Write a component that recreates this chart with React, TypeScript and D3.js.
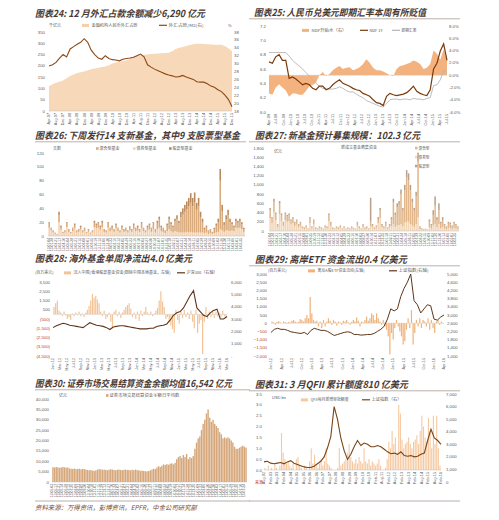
import React from "react";
import * as d3 from "d3";

const SANS = "'Liberation Sans', Arial, sans-serif";
const CJK = "'Noto Sans CJK SC', 'Noto Sans', sans-serif";
const TXT = "#595959";
const NEG = "#c0392b";
const RULE = "#a89c96";

const MON = ["Jan","Feb","Mar","Apr","May","Jun","Jul","Aug","Sep","Oct","Nov","Dec"];
function monthLabels(year: number, month: number, count: number, step: number): string[] {
  const out: string[] = [];
  for (let k = 0; k < count; k++) {
    const t = month + k * step;
    const yy = year + Math.floor(t / 12);
    out.push(`${MON[t % 12]}-${String(yy % 100).padStart(2, "0")}`);
  }
  return out;
}
function dayLabels(start: string, count: number, stepDays: number): string[] {
  const f = d3.timeFormat("%y-%m-%d");
  const s = new Date(start + "T00:00:00");
  return d3.range(count).map((k) => f(d3.timeDay.offset(s, k * stepDays)));
}

// ---------- Titles ----------
const TITLE24 = "图表24: 12 月外汇占款余额减少6,290 亿元";
const TITLE25 = "图表25: 人民币兑美元即期汇率本周有所贬值";
const TITLE26 = "图表26: 下周发行14 支新基金，其中9 支股票型基金";
const TITLE27 = "图表27: 新基金预计募集规模：102.3 亿元";
const TITLE28 = "图表28: 海外基金单周净流出4.0 亿美元";
const TITLE29 = "图表29: 离岸ETF 资金流出0.4 亿美元";
const TITLE30 = "图表30: 证券市场交易结算资金余额均值16,542 亿元";
const TITLE31 = "图表31: 3 月QFII 累计额度810 亿美元";
const SOURCE = "资料来源：万得资讯，彭博资讯，EPFR，中金公司研究部";

// ---------- Panel 24 (bi-monthly, Apr-07 .. Dec-15) ----------
const fxHoldings = [110,118,125,130,135,145,155,162,168,172,175,180,185,188,192,195,197,203,210,215,218,222,225,232,242,245,248,249,250,252,254,255,256,257,258,265,275,280,283,288,292,296,298,298,297,296,295,294,294,293,288,278,265];
const fxToM2 = [29.4,29.7,30.3,31.4,32.3,31.7,33.7,34.3,34.9,35.4,36.3,35.4,33.4,32.3,31.4,31.1,32.0,31.3,31.0,30.9,30.7,31.1,31.3,31.4,31.6,32.0,32.4,31.7,29.7,29.1,28.6,28.2,27.8,27.4,27.1,26.9,26.6,26.7,27.0,26.6,26.3,26.0,25.4,25.3,25.3,24.9,24.3,24.0,23.4,22.9,22.0,20.9,19.1];
const labels24 = monthLabels(2007, 3, 27, 4);

// ---------- Panel 25 ----------
const ndf1y = [6.70,6.68,6.77,6.80,6.72,6.72,6.47,6.49,6.46,6.42,6.38,6.40,6.38,6.33,6.31,6.36,6.36,6.31,6.33,6.38,6.42,6.45,6.40,6.38,6.36,6.33,6.31,6.30,6.26,6.24,6.22,6.17,6.13,6.12,6.09,6.22,6.26,6.24,6.23,6.24,6.25,6.27,6.31,6.36,6.29,6.26,6.24,6.23,6.31,6.60,6.68,6.85,6.95,6.72];
const spotRate = [6.83,6.83,6.83,6.83,6.83,6.83,6.78,6.72,6.68,6.64,6.60,6.55,6.50,6.45,6.40,6.36,6.33,6.32,6.32,6.32,6.33,6.35,6.33,6.30,6.28,6.28,6.25,6.22,6.20,6.16,6.14,6.12,6.10,6.08,6.07,6.12,6.17,6.18,6.18,6.17,6.18,6.18,6.17,6.19,6.18,6.18,6.17,6.19,6.20,6.37,6.38,6.45,6.58,6.55];
const ndfPremium = [-3.0,-3.2,-2.0,-1.5,-2.0,-2.5,-3.5,-3.0,-3.0,-3.2,-3.2,-2.6,-1.8,-1.6,-1.2,0.0,0.5,-0.2,0.2,0.8,1.2,1.5,1.0,1.2,1.3,0.8,1.0,1.3,1.8,2.6,2.0,1.2,0.8,0.8,0.6,0.3,0.0,-0.2,1.0,1.5,1.6,1.8,2.0,2.4,2.2,1.8,1.0,1.2,1.8,4.0,3.5,2.5,4.2,2.5];
const labels25 = monthLabels(2009, 3, 26, 3);

// ---------- Panel 26 ----------
const bond26 = [12,8,5,3,2,20,9,4,5,13,6,4,7,11,5,6,9,5,7,4,6,3,5,13,11,12,9,13,6,5,12,7,9,6,11,7,5,9,6,7,5,8,6,10,7,8,6,11,7,5,8,10,6,10,5,10,12,7,6,4,7,10,7,5,7,6,5,5,5,5,6,5,6,5,5,5,5,5,5,4,5,3,4,3,4,5,6,10,8,6,8,8,7,8,7,12,11,12,10,6];
const mixed26 = [6,3,2,2,1,10,4,2,2,5,3,2,4,5,2,3,4,2,4,2,3,2,2,6,5,6,4,6,3,2,6,4,4,3,5,4,2,4,3,4,2,4,3,6,4,5,3,7,4,2,5,6,5,8,4,9,12,6,5,3,8,14,10,8,14,18,13,22,26,30,33,38,42,38,44,33,38,22,15,6,8,4,5,2,6,10,14,70,28,10,16,22,13,9,6,9,8,9,7,4];
const stock26 = [2,1,1,0,0,5,2,0,1,2,1,0,1,2,1,1,2,1,1,0,1,0,1,3,2,2,2,3,1,1,2,1,2,1,2,1,1,2,1,1,1,2,1,2,1,2,1,2,1,1,2,2,1,2,1,3,4,2,1,1,3,4,3,2,4,6,4,8,9,10,11,12,14,12,14,10,12,8,5,2,2,1,1,1,2,3,5,17,9,4,6,8,5,3,2,4,3,4,3,2];
const labels26 = dayLabels("2013-01-04", 50, 24);

// ---------- Panel 27 ----------
const mixed27 = [170,100,230,130,55,220,130,70,130,115,130,85,100,70,85,55,70,30,27,38,19,100,35,85,27,19,35,27,15,38,35,130,70,27,19,35,27,38,19,35,15,27,19,35,23,15,70,35,19,55,27,35,19,120,50,25,35,90,160,50,30,60,25,50,160,470,260,400,440,650,340,700,970,900,730,500,350,600,1200,40,20,12,15,10,120,70,230,400,160,300,100,150,70,50,90,80,60,90,70,45];
const bond27 = [280,170,400,230,80,370,210,110,230,200,210,140,170,110,140,80,110,60,45,70,35,170,55,140,45,35,55,45,30,70,55,210,110,45,35,55,45,70,35,55,30,45,35,55,40,30,110,55,35,80,45,55,35,100,80,45,70,170,280,80,55,110,45,80,100,150,90,120,130,150,100,180,200,200,150,120,90,150,300,40,30,20,25,15,80,50,120,150,80,150,60,90,50,30,70,60,40,70,50,35];
const stock27 = [50,30,70,40,15,60,40,20,40,35,40,25,30,20,25,15,20,10,8,12,6,30,10,25,8,6,10,8,5,12,10,40,20,8,6,10,8,12,6,10,5,8,6,10,7,5,20,10,6,15,8,10,6,500,20,10,15,40,60,20,15,30,10,20,40,80,50,80,80,100,60,120,150,150,120,80,60,100,200,20,10,8,10,5,50,30,100,200,60,150,40,60,30,20,40,40,20,40,30,20];
const labels27 = dayLabels("2013-01-04", 50, 24);

// ---------- Panel 28 ----------
const flows28 = [800,1200,1500,400,200,-200,300,-100,-500,-300,-600,100,-200,200,-100,300,-200,100,-300,200,500,900,1500,2200,1800,2000,1600,1200,300,-200,400,-500,-300,200,-800,-1500,300,500,-200,300,-400,200,500,800,1000,1200,600,-300,200,-500,300,-700,400,-200,300,800,200,-100,300,-200,100,400,700,1500,2500,1400,800,-500,-300,-800,-1200,-1600,-2000,500,-600,-1000,300,-400,500,-300,200,-500,400,-800,-1500,500,-2000,-1000,-600,-4300,-800,800,-500,300,-300,500,-400,300,-200,200,-300,400,-200,-400];
const csi300 = [2300,2450,2550,2650,2600,2500,2450,2400,2350,2300,2500,2700,2600,2500,2450,2400,2300,2150,2350,2400,2450,2450,2400,2350,2300,2250,2200,2200,2200,2250,2250,2400,2450,2500,2600,2900,3300,3500,3600,3900,4400,4900,5300,3900,3600,3300,3200,3500,3700,3800,3000,3000,3200];
const labels28 = monthLabels(2012, 0, 26, 2);

// ---------- Panel 29 ----------
const etf29 = [100,50,-100,80,120,50,0,100,60,-50,80,50,150,200,100,50,80,250,200,100,300,500,300,1600,600,200,100,150,-200,100,-300,200,-200,100,300,150,-100,200,100,-150,100,50,-100,150,100,200,50,-100,80,200,100,350,150,-200,100,50,200,400,150,300,600,500,200,600,300,100,-100,200,-200,-400,-800,-1900,-600,-1000,-300,200,-200,-500,-800,-1300,-1100,-400,300,-300,800,-1300,-600,200,-200,300,-300,200,100,-200,300,-400,200,-300,-600,100,200,-100,100,-40];
const shcomp29 = [2150,2300,2350,2300,2300,2250,2180,2150,2120,2100,2150,2050,2250,2350,2300,2250,2250,2200,2100,2000,2050,2100,2150,2180,2150,2050,2050,2020,2030,2050,2050,2100,2200,2300,2450,2800,3300,3200,3300,3900,4300,4600,5000,3700,3500,3100,3300,3500,3450,2800,2750,2900,3000];
const labels29 = monthLabels(2012, 0, 18, 3);

// ---------- Panel 30 ----------
const settle30 = [7100,7000,7200,7100,6800,7000,7200,7100,6900,7000,6500,6400,6300,6500,6200,6300,6400,6100,6300,6200,6000,5800,5600,5800,5500,5400,5600,6000,6200,6100,5900,6000,5800,5700,5900,6100,6000,5800,5600,5900,6000,5800,5700,5900,6000,5800,5800,5600,5900,5700,6000,5800,5600,5400,5500,5300,5200,5100,5300,5600,6000,6400,6200,7000,7600,7200,7800,8500,8200,8600,8300,8800,9000,8500,9200,11000,12000,12500,11500,13000,12000,13500,11000,12000,11500,12500,16000,19000,21000,22000,25000,28000,30000,33000,35000,31000,29000,30000,28000,27000,26000,24000,23000,21000,21500,21000,21500,21000,20000,19000,17000,16000,16000,16500,17000,17500,17000,16542];
const labels30 = dayLabels("2013-05-03", 59, 14);

// ---------- Panel 31 ----------
const qfii31 = [0.1,0,0.2,0,0.1,0,0.3,0.1,0,0.2,1.7,0.8,0.5,0.3,0.4,0.2,0.1,0.3,0,0.5,0.6,0.2,0.1,0,0.2,0.1,0,0.4,1.0,0.3,0.7,0.2,0.1,0.3,0.5,0.2,0.4,1.0,0.3,0.2,0.1,0,0,0,0.1,1.0,0.2,0.3,0.4,0.5,0.8,1.2,0.6,0.4,0.3,0.5,0.3,0.6,0.4,0.3,1.0,0.4,0.3,0.5,0.2,0.4,0.3,0.2,0.3,0.5,0.2,0,0,0.1,0.5,1.3,1.0,1.8,1.2,1.5,0.8,3.0,2.6,1.4,1.0,1.2,1.3,1.5,1.2,1.0,1.3,1.4,1.6,1.2,1.8,2.5,2.0,1.5,1.3,2.4,1.8,1.0,2.5,1.2,2.5,1.0,0.2];
const shcomp31 = [1600,1650,1500,1450,1500,1550,1450,1600,1700,1500,1400,1300,1200,1150,1150,1250,1450,1650,2000,2700,3600,6000,5000,3500,2500,1800,2200,2800,3300,2900,3100,3000,2800,2800,2900,2800,2600,2400,2250,2300,2200,2400,2100,2050,2100,2000,2050,2200,2300,3300,4200,3500,3300,3000];
const labels31 = monthLabels(2002, 7, 28, 6);

// ---------- helpers ----------
const comma = d3.format(",");

function Title({ x, y, text, w, rule }: any) {
  return (
    <g>
      <text x={x} y={y} fontFamily={CJK} fontStyle="italic" fontWeight={700} fontSize={9.5}
        fill="#4a3a34" textLength={w} lengthAdjust="spacingAndGlyphs">{text}</text>
      {rule && <line x1={rule[0]} x2={rule[1]} y1={y + 2.8} y2={y + 2.8} stroke={RULE} strokeWidth={0.8} />}
    </g>
  );
}

function YLabels({ scale, ticks, x, anchor, fmt, colorFn }: any) {
  return (
    <g>
      {ticks.map((t: number) => (
        <text key={t} x={x} y={scale(t) + 1.5} textAnchor={anchor} fontSize={4.3}
          fontFamily={SANS} fill={colorFn ? colorFn(t) : TXT}>{fmt(t)}</text>
      ))}
    </g>
  );
}

function XLabels({ labels, positions, y, size = 3.8 }: any) {
  return (
    <g>
      {labels.map((l: string, i: number) => (
        <text key={i} transform={`translate(${positions[i] + size * 0.35},${y}) rotate(-90)`}
          textAnchor="end" fontSize={size} fontFamily={SANS} fill={TXT}>{l}</text>
      ))}
    </g>
  );
}

function Legend({ x, y, text, w, kind, color }: any) {
  return (
    <g>
      {kind === "rect" && <rect x={x} y={y - 2.6} width={7} height={3} fill={color} />}
      {kind === "sq" && <rect x={x} y={y - 2.8} width={2.6} height={2.6} fill={color} />}
      {kind === "line" && <line x1={x} x2={x + 8} y1={y - 1.2} y2={y - 1.2} stroke={color} strokeWidth={1.2} />}
      <text x={x + (kind === "sq" ? 3.5 : 9.5)} y={y} fontSize={4} fontFamily={CJK} fill={TXT}
        textLength={w} lengthAdjust="spacingAndGlyphs">{text}</text>
    </g>
  );
}

function StackBars({ series, colors, x, y }: any) {
  const n = series[0].length;
  const rows = d3.range(n).map((i) => {
    const o: any = { i };
    series.forEach((s: number[], k: number) => (o["s" + k] = s[i]));
    return o;
  });
  const stack = d3.stack<any>().keys(series.map((_: any, k: number) => "s" + k))(rows);
  return (
    <g>
      {stack.map((layer, k) =>
        layer.map((d, i) => (
          <rect key={k + "-" + i} x={x(i)} width={x.bandwidth()} y={y(d[1])}
            height={Math.max(0, y(d[0]) - y(d[1]))} fill={colors[k]} />
        ))
      )}
    </g>
  );
}

// ---------- Panels ----------
function Panel24() {
  const x = d3.scaleLinear().domain([0, 104]).range([49, 232]);
  const yL = d3.scaleLinear().domain([0, 350]).range([111, 32]);
  const yR = d3.scaleLinear().domain([18, 38]).range([111, 32]);
  const area = d3.area<number>().x((_, i) => x(i * 2)).y0(yL(0)).y1((d) => yL(d));
  const line = d3.line<number>().x((_, i) => x(i * 2)).y((d) => yR(d));
  return (
    <g>
      <Title x={35} y={17} text={TITLE24} w={170} />
      <text x={49} y={26.5} fontSize={4} fontFamily={CJK} fill={TXT}>千亿元</text>
      <text x={228} y={26.5} fontSize={4} fontFamily={SANS} fill={TXT}>%</text>
      <Legend x={82} y={26.5} kind="rect" color="#f5cfa8" text="金融机构人民币外汇占款" w={46} />
      <Legend x={159} y={26.5} kind="line" color="#8b4a17" text="外汇占款/M2(右)" w={35} />
      <path d={area(fxHoldings)!} fill="#f7d8b8" />
      <line x1={49} x2={232} y1={111} y2={111} stroke="#bdbdbd" strokeWidth={0.5} />
      <path d={line(fxToM2)!} fill="none" stroke="#8b4a17" strokeWidth={1.1} />
      <YLabels scale={yL} ticks={d3.range(0, 351, 50)} x={45} anchor="end" fmt={String} />
      <YLabels scale={yR} ticks={d3.range(18, 39, 2)} x={234} anchor="start" fmt={String} />
      <XLabels labels={labels24} positions={labels24.map((_, k) => x(k * 4))} y={113} />
    </g>
  );
}

function Panel25() {
  const x = d3.scaleLinear().domain([0, ndf1y.length - 1]).range([269, 447]);
  const yL = d3.scaleLinear().domain([6.0, 7.2]).range([112, 26]);
  const yR = d3.scaleLinear().domain([-6, 8]).range([112, 26]);
  const area = d3.area<number>().x((_, i) => x(i)).y0(yR(0)).y1((d) => yR(d));
  const lineL = d3.line<number>().x((_, i) => x(i)).y((d) => yL(d));
  const xl = d3.scaleLinear().domain([0, labels25.length - 1]).range([269, 447]);
  return (
    <g>
      <Title x={254} y={16} text={TITLE25} w={172} rule={[249, 460]} />
      <Legend x={302} y={31.5} kind="rect" color="#f4b27e" text="NDF升贴水（右）" w={35} />
      <Legend x={360} y={31.5} kind="line" color="#7a3a0a" text="NDF 1Y" w={13} />
      <Legend x={392} y={31.5} kind="line" color="#b5b5b5" text="即期汇率" w={15} />
      <path d={area(ndfPremium)!} fill="#f4b27e" />
      <line x1={269} x2={447} y1={yR(0)} y2={yR(0)} stroke="#c8c8c8" strokeWidth={0.4} />
      <path d={lineL(spotRate)!} fill="none" stroke="#b5b5b5" strokeWidth={0.9} />
      <path d={lineL(ndf1y)!} fill="none" stroke="#7a3a0a" strokeWidth={1.2} />
      <YLabels scale={yL} ticks={d3.range(0, 7).map((k) => 6.0 + k * 0.2)} x={266} anchor="end" fmt={d3.format(".1f")} />
      <YLabels scale={yR} ticks={d3.range(-6, 9, 2)} x={449} anchor="start" fmt={(t: number) => t.toFixed(1) + "%"} />
      <XLabels labels={labels25} positions={labels25.map((_, k) => xl(k))} y={114} />
    </g>
  );
}

function Panel26() {
  const x = d3.scaleBand<number>().domain(d3.range(bond26.length)).range([48, 245]).padding(0.2);
  const y = d3.scaleLinear().domain([0, 120]).range([236, 153]);
  const colors = ["#f3d3b2", "#d9aa7c", "#b98a5e"];
  return (
    <g>
      <Title x={35} y={139} text={TITLE26} w={205} rule={[35, 246]} />
      <text x={53} y={150} fontSize={4} fontFamily={CJK} fill={TXT}>支数</text>
      <Legend x={96} y={150} kind="sq" color="#d9aa7c" text="混合型基金" w={20} />
      <Legend x={133} y={150} kind="sq" color="#f3d3b2" text="债券型基金" w={20} />
      <Legend x={169} y={150} kind="sq" color="#b98a5e" text="股票型基金" w={20} />
      <StackBars series={[bond26, mixed26, stock26]} colors={colors} x={x} y={y} />
      <line x1={48} x2={245} y1={236} y2={236} stroke="#bdbdbd" strokeWidth={0.5} />
      <YLabels scale={y} ticks={d3.range(0, 121, 20)} x={44} anchor="end" fmt={String} />
      <XLabels labels={labels26} positions={labels26.map((_, k) => x(k * 2)!)} y={238} size={3.3} />
    </g>
  );
}

function Panel27() {
  const x = d3.scaleBand<number>().domain(d3.range(mixed27.length)).range([269, 459]).padding(0.2);
  const y = d3.scaleLinear().domain([0, 1800]).range([231, 148]);
  const colors = ["#f2d6b8", "#e0b68a", "#b9a08a"];
  return (
    <g>
      <Title x={255} y={139} text={TITLE27} w={165} rule={[249, 460]} />
      <text x={359} y={149} textAnchor="middle" fontSize={4} fontFamily={CJK} fill={TXT}>新成立基金募集资金</text>
      <text x={274} y={153} fontSize={4} fontFamily={CJK} fill={TXT}>亿元</text>
      <Legend x={415} y={149.5} kind="sq" color="#e0b68a" text="混合型" w={11} />
      <Legend x={415} y={158.5} kind="sq" color="#f2d6b8" text="债券型" w={11} />
      <Legend x={415} y={167.5} kind="sq" color="#b9a08a" text="股票型" w={11} />
      <StackBars series={[bond27, mixed27, stock27]} colors={colors} x={x} y={y} />
      <line x1={269} x2={459} y1={231} y2={231} stroke="#bdbdbd" strokeWidth={0.5} />
      <YLabels scale={y} ticks={d3.range(0, 1801, 200)} x={264} anchor="end" fmt={comma} />
      <XLabels labels={labels27} positions={labels27.map((_, k) => x(k * 2)!)} y={233} size={3.3} />
    </g>
  );
}

function Panel28() {
  const xb = d3.scaleLinear().domain([0, flows28.length - 1]).range([54, 226]);
  const xl = d3.scaleLinear().domain([0, csi300.length - 1]).range([53, 227]);
  const yL = d3.scaleLinear().domain([-4500, 3500]).range([356, 282]);
  const yR = d3.scaleLinear().domain([0, 6000]).range([356, 282]);
  const line = d3.line<number>().x((_, i) => xl(i)).y((d) => yR(d));
  const xt = d3.scaleLinear().domain([0, labels28.length - 1]).range([53, 227]);
  return (
    <g>
      <Title x={35} y={262} text={TITLE28} w={157} />
      <text x={35} y={274} fontSize={4} fontFamily={CJK} fill={TXT}>(百万美元)</text>
      <Legend x={64} y={274} kind="rect" color="#f3c396" text="流入中国/香港股票基金资金(剔除中国本地基金，左轴)" w={97} />
      <Legend x={177} y={274} kind="line" color="#5e3519" text="沪深300（右轴）" w={31} />
      {flows28.map((v, i) => (
        <rect key={i} x={xb(i) - 0.6} width={1.2} y={Math.min(yL(0), yL(v))}
          height={Math.abs(yL(v) - yL(0))} fill="#f3c396" />
      ))}
      <line x1={53} x2={227} y1={yL(0)} y2={yL(0)} stroke="#c8c8c8" strokeWidth={0.4} />
      <path d={line(csi300)!} fill="none" stroke="#5e3519" strokeWidth={1.1} />
      <YLabels scale={yL} ticks={d3.range(-4500, 3501, 1000)} x={50} anchor="end"
        fmt={(t: number) => (t < 0 ? `(${comma(-t)})` : comma(t))} colorFn={(t: number) => (t < 0 ? NEG : TXT)} />
      <YLabels scale={yR} ticks={d3.range(0, 6001, 1000)} x={231} anchor="start"
        fmt={(t: number) => (t === 0 ? "-" : comma(t))} />
      <XLabels labels={labels28} positions={labels28.map((_, k) => xt(k))} y={358} />
    </g>
  );
}

function Panel29() {
  const xb = d3.scaleLinear().domain([0, etf29.length - 1]).range([272, 443]);
  const xl = d3.scaleLinear().domain([0, shcomp29.length - 1]).range([271, 444]);
  const yL = d3.scaleLinear().domain([-2000, 3000]).range([356, 274]);
  const yR = d3.scaleLinear().domain([1000, 5000]).range([356, 274]);
  const line = d3.line<number>().x((_, i) => xl(i)).y((d) => yR(d));
  const xt = d3.scaleLinear().domain([0, labels29.length - 1]).range([271, 444]);
  return (
    <g>
      <Title x={255} y={263} text={TITLE29} w={152} rule={[249, 460]} />
      <text x={268} y={272} fontSize={4} fontFamily={CJK} fill={TXT}>(百万美元)</text>
      <Legend x={308} y={272} kind="rect" color="#efb27a" text="离岸A股ETF资金流动(左轴)" w={47} />
      <Legend x={389} y={272} kind="line" color="#5e3519" text="上证指数(右轴)" w={30} />
      {etf29.map((v, i) => (
        <rect key={i} x={xb(i) - 0.6} width={1.2} y={Math.min(yL(0), yL(v))}
          height={Math.abs(yL(v) - yL(0))} fill="#efb27a" />
      ))}
      <line x1={271} x2={444} y1={yL(0)} y2={yL(0)} stroke="#c8c8c8" strokeWidth={0.4} />
      <path d={line(shcomp29)!} fill="none" stroke="#5e3519" strokeWidth={1.0} />
      <YLabels scale={yL} ticks={d3.range(-2000, 3001, 500)} x={267} anchor="end"
        fmt={comma} colorFn={(t: number) => (t < 0 ? NEG : TXT)} />
      <YLabels scale={yR} ticks={d3.range(1000, 5001, 400)} x={447} anchor="start" fmt={comma} />
      <XLabels labels={labels29} positions={labels29.map((_, k) => xt(k))} y={358} />
    </g>
  );
}

function Panel30() {
  const x = d3.scaleBand<number>().domain(d3.range(settle30.length)).range([52, 247]).padding(0.15);
  const y = d3.scaleLinear().domain([0, 40000]).range([482, 399]);
  return (
    <g>
      <Title x={35} y={387} text={TITLE30} w={197} rule={[35, 250]} />
      <text x={59} y={397} fontSize={4} fontFamily={CJK} fill={TXT}>亿元</text>
      <Legend x={106} y={397} kind="sq" color="#d6a77b" text="证券市场交易结算资金余额日平均数" w={70} />
      {settle30.map((v, i) => (
        <rect key={i} x={x(i)} width={x.bandwidth()} y={y(v)} height={y(0) - y(v)} fill="#d6a77b" />
      ))}
      <line x1={52} x2={247} y1={482} y2={482} stroke="#bdbdbd" strokeWidth={0.5} />
      <YLabels scale={y} ticks={d3.range(0, 40001, 5000)} x={49} anchor="end" fmt={comma} />
      <XLabels labels={labels30} positions={labels30.map((_, k) => x(k * 2)!)} y={484} size={3.3} />
      <line x1={35} x2={250} y1={501} y2={501} stroke={RULE} strokeWidth={0.8} />
    </g>
  );
}

function Panel31() {
  const xb = d3.scaleLinear().domain([0, qfii31.length - 1]).range([265, 440]);
  const xl = d3.scaleLinear().domain([0, shcomp31.length - 1]).range([264, 441]);
  const yL = d3.scaleLinear().domain([0, 3.5]).range([470, 394]);
  const yR = d3.scaleLinear().domain([0, 7000]).range([482, 394]);
  const line = d3.line<number>().x((_, i) => xl(i)).y((d) => yR(d));
  const xt = d3.scaleLinear().domain([0, labels31.length - 1]).range([264, 441]);
  return (
    <g>
      <Title x={255} y={388} text={TITLE31} w={153} rule={[249, 460]} />
      <text x={272} y={399} fontSize={4} fontFamily={SANS} fill={TXT}>USD bn</text>
      <Legend x={301} y={401} kind="rect" color="#f6c8a0" text="QFII每月新增审批额度" w={38} />
      <Legend x={362} y={401} kind="line" color="#7b4515" text="上证指数（右）" w={30} />
      {qfii31.map((v, i) => (
        <rect key={i} x={xb(i) - 0.55} width={1.1} y={yL(v)} height={yL(0) - yL(v)} fill="#f6c8a0" />
      ))}
      <line x1={264} x2={441} y1={470} y2={470} stroke="#bdbdbd" strokeWidth={0.5} />
      <path d={line(shcomp31)!} fill="none" stroke="#7b4515" strokeWidth={1.1} />
      <YLabels scale={yL} ticks={d3.range(0, 8).map((k) => k * 0.5)} x={262} anchor="end" fmt={d3.format(".1f")} />
      <YLabels scale={yR} ticks={d3.range(0, 7001, 1000)} x={446} anchor="start" fmt={comma} />
      <text x={255} y={483.5} fontSize={4} fontFamily={CJK} fill={NEG}>来源</text>
      <XLabels labels={labels31} positions={labels31.map((_, k) => xt(k))} y={472} />
      <line x1={249} x2={460} y1={501} y2={501} stroke={RULE} strokeWidth={0.8} />
    </g>
  );
}

export default function App() {
  return (
    <svg width={499} height={520} viewBox="0 0 499 520"
      style={{ position: "absolute", left: 0, top: 0, background: "#fff" }}>
      <rect width={499} height={520} fill="#fff" />
      <Panel24 />
      <Panel25 />
      <Panel26 />
      <Panel27 />
      <Panel28 />
      <Panel29 />
      <Panel30 />
      <Panel31 />
      <text x={35} y={510} fontSize={6.5} fontFamily={CJK} fontStyle="italic" fill="#7a4a2a"
        textLength={162} lengthAdjust="spacingAndGlyphs">{SOURCE}</text>
    </svg>
  );
}
